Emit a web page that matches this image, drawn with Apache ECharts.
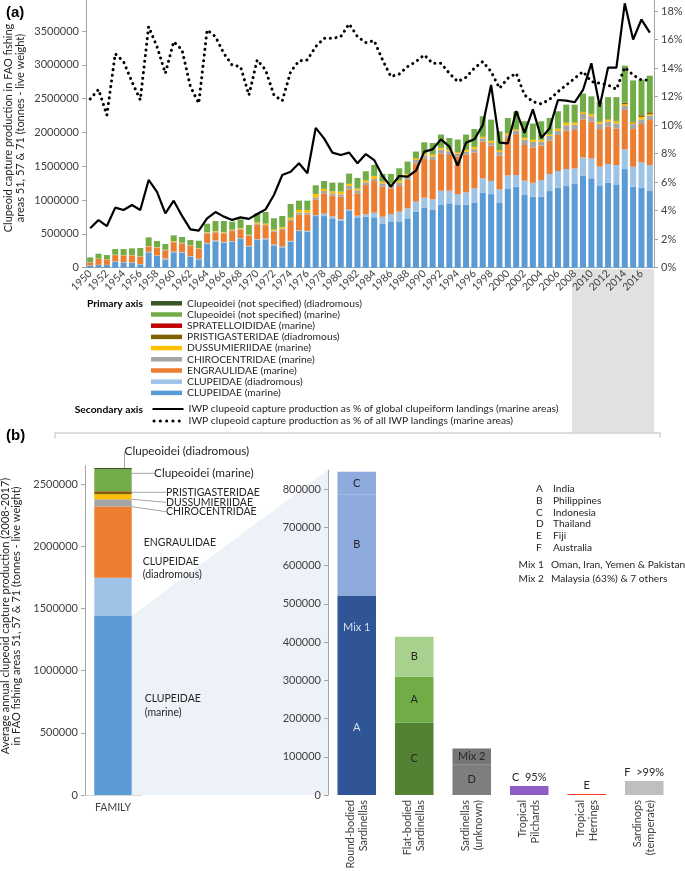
<!DOCTYPE html>
<html><head><meta charset="utf-8">
<script src="https://cdn.jsdelivr.net/npm/echarts@6/dist/echarts.min.js"></script>
<style>html,body{margin:0;padding:0;background:#fff}#c{width:685px;height:871px}</style>
</head><body><div id="c"></div><script>
// ---------- DATA (thousand tonnes; percentages) ----------
const years = ['1950','1951','1952','1953','1954','1955','1956','1957','1958','1959',
'1960','1961','1962','1963','1964','1965','1966','1967','1968','1969',
'1970','1971','1972','1973','1974','1975','1976','1977','1978','1979',
'1980','1981','1982','1983','1984','1985','1986','1987','1988','1989',
'1990','1991','1992','1993','1994','1995','1996','1997','1998','1999',
'2000','2001','2002','2003','2004','2005','2006','2007','2008','2009',
'2010','2011','2012','2013','2014','2015','2016','2017'];

const clupeidaeMarine = [30,39,39,89,79,74,49,227,173,113, 227,222,163,123,355,390,370,380,424,311, 409,419,330,301,385,542,533,764,764,730, 695,838,745,755,745,646,676,685,730,828, 888,853,927,952,927,930,965,1114,1088,966, 1174,1198,1075,1050,1050,1134,1183,1208,1238,1360, 1322,1208,1257,1233,1459,1198,1183,1134];
const clupeidaeDiad = [3,4,3,5,5,5,5,8,8,25, 10,8,8,8,10,15,12,12,12,12, 14,14,12,12,12,12,12,15,35,30, 25,20,25,35,69,108,118,143,148,148, 148,158,212,187,163,186,209,208,196,193, 192,173,212,207,247,252,247,252,231,272, 295,286,276,286,291,296,375,385];
const engraulidae = [44,88,80,92,97,103,109,76,115,118, 138,125,149,145,143,118,126,150,131,145, 218,183,191,244,293,230,239,232,301,305, 330,301,330,433,468,444,380,380,429,567, 581,582,552,528,552,560,530,542,521,498, 560,606,528,523,508,493,533,567,568,562, 543,557,553,542,582,557,567,665];
const chirocentridae = [3,3,3,4,4,4,4,6,6,6, 8,8,7,8,10,12,12,12,12,12, 15,15,15,20,20,30,30,30,35,35, 35,50,45,40,30,50,50,50,50,50, 45,50,55,55,45,40,50,50,40,55, 35,50,80,80,60,70,60,80,80,80, 80,80,75,75,60,75,70,65];
const dussumieriidae = [2,2,2,3,3,3,3,4,4,4, 12,6,5,5,8,8,8,8,8,8, 15,20,15,25,30,40,40,50,30,30, 40,30,25,30,44,25,20,30,30,25, 30,30,25,25,20,25,30,20,30,25, 25,20,25,30,25,20,30,35,30,25, 30,25,30,30,25,20,35,20];
const pristigasteridae = [0,0,0,0,0,0,0,0,0,0, 0,0,0,0,0,0,0,0,0,0, 1,1,1,1,1,1,1,1,1,1, 2,2,2,2,2,2,2,2,2,2, 3,3,3,3,3,3,3,3,3,3, 3,4,3,3,3,3,3,3,5,5, 5,5,5,5,25,15,25,30];
const spratelloididae = [0,0,0,0,0,0,0,0,0,0, 0,0,0,0,0,0,0,0,0,0, 0,0,0,0,0,0,0,0,0,0, 0,0,0,0,0,0,0,0,0,0, 1,1,1,1,1,1,1,1,1,1, 1,1,1,1,1,1,1,1,1,1, 1,1,1,1,1,1,1,1];
const clupeoideiMarine = [71,71,60,83,88,97,121,128,89,84, 83,85,77,110,125,147,162,118,128,143, 133,172,167,162,202,137,137,127,117,127, 132,152,156,132,163,113,142,181,181,98, 157,166,192,166,182,222,262,300,309,275, 223,257,240,235,270,240,255,264,254,265, 255,280,324,349,541,605,521,536];
const clupeoideiDiad = [0,0,0,0,0,0,0,0,0,0, 0,0,0,0,0,0,0,0,0,0, 0,0,0,0,0,0,0,0,0,0, 0,0,0,0,0,0,0,0,0,0, 2,2,2,2,2,2,2,2,2,2, 2,2,2,2,2,2,2,2,3,3, 3,3,3,3,3,3,3,3];

const pctGlobalClupeiform = [2.76,3.34,2.92,4.21,4.05,4.40,4.05,6.15,5.31,3.81, 4.70,3.63,2.69,2.60,3.46,3.90,3.58,3.35,3.53,3.42, 3.77,4.09,5.10,6.50,6.73,7.32,6.62,9.80,9.07,8.07, 7.90,8.07,7.32,7.97,7.55,6.43,5.68,6.43,6.38,6.80, 8.14,8.30,9.00,8.49,7.15,8.77,9.00,10.00,12.81,8.77, 8.72,10.98,9.46,11.10,9.10,9.77,11.76,11.71,11.60,12.46, 14.33,11.30,14.03,14.03,18.54,16.00,17.40,16.48];
const pctAllIWP = [11.83,12.50,10.70,15.00,14.45,13.04,11.76,16.90,15.50,13.63, 15.85,15.27,12.70,11.53,16.67,16.20,15.03,14.20,14.10,12.10, 14.57,13.86,12.10,11.70,13.74,14.50,14.57,15.50,16.08,16.08, 16.20,17.09,16.20,15.78,15.92,14.57,13.40,13.58,14.10,14.45, 14.92,14.33,14.33,13.63,13.05,13.35,14.00,14.45,13.75,12.58, 13.28,13.63,12.11,11.64,11.48,11.80,12.34,12.81,13.28,13.75, 13.05,12.93,12.81,12.51,14.05,13.51,13.16,13.16];

// Panel (b): 2008-2017 averages by family (same order as stack)
const familyAvg = [1440, 308, 572, 59, 41, 20, 3, 177, 10];
const familyLabels = ['CLUPEIDAE\n(marine)', 'CLUPEIDAE\n(diadromous)', 'ENGRAULIDAE', 'CHIROCENTRIDAE', 'DUSSUMIERIIDAE', 'PRISTIGASTERIDAE', '', 'Clupeoidei (marine)', 'Clupeoidei (diadromous)'];

const sardCats = ['Round-bodied\nSardinellas','Flat-bodied\nSardinellas','Sardinellas\n(unknown)','Tropical\nPilchards','Tropical\nHerrings','Sardinops\n(temperate)'];
const sardL1 = [353, 189, 79, 23.5, 2.5, 36.6];
const sardL1Lab = ['A','C','D','C  95%','E','F  >99%'];
const sardL2 = [169, 121, 43, null, null, null];
const sardL2Lab = ['Mix 1','A','Mix 2','','',''];
const sardL3 = [265, 104, null, null, null, null];
const sardL3Lab = ['B','B','','','',''];
const sardL4 = [59, null, null, null, null, null];
const sardL4Lab = ['C','','','','',''];

const keyCodes = ['A','B','C','D','E','F'];
const keyNames = ['India','Philippines','Indonesia','Thailand','Fiji','Australia'];
const mixCodes = ['Mix 1','Mix 2'];
const mixNames = ['Oman, Iran, Yemen & Pakistan','Malaysia (63%) & 7 others'];

// ---------- STYLE ----------
const FONT = 'Lato, "Open Sans", sans-serif';
const AX = '#a6a6a6';
const TXT = '#404040';
const famDefs = [
  ['CLUPEIDAE (marine)', clupeidaeMarine, '#5B9BD5'],
  ['CLUPEIDAE (diadromous)', clupeidaeDiad, '#9DC3E6'],
  ['ENGRAULIDAE (marine)', engraulidae, '#ED7D31'],
  ['CHIROCENTRIDAE (marine)', chirocentridae, '#A5A5A5'],
  ['DUSSUMIERIIDAE (marine)', dussumieriidae, '#FFC000'],
  ['PRISTIGASTERIDAE (diadromous)', pristigasteridae, '#7F6000'],
  ['SPRATELLOIDIDAE (marine)', spratelloididae, '#C00000'],
  ['Clupeoidei (not specified) (marine)', clupeoideiMarine, '#70AD47'],
  ['Clupeoidei (not specified) (diadromous)', clupeoideiDiad, '#375623']
];
const lineNames = ['IWP clupeoid capture production as % of global clupeiform landings (marine areas)',
                   'IWP clupeoid capture production as % of all IWP landings (marine areas)'];
const kfmt = v => String(Math.round(v * 1000));

const famLabelCfg = [
  {label:{position:'right', distance:13}},
  {label:{position:'right', distance:11, offset:[0,-29]}},
  {label:{position:'right', distance:12}},
  {layout:{x:166, y:511.7}},
  {layout:{x:166, y:502.3}},
  {layout:{x:166, y:492.3}},
  null,
  {layout:{x:154, y:473.3}, fontSize:11.8},
  {layout:{x:124.5, y:451.5}, fontSize:11.8}
];

const series = [];
famDefs.forEach(([name, data, color]) => {
  series.push({name, type:'bar', stack:'top', xAxisIndex:0, yAxisIndex:0, data,
    barWidth:'72%', itemStyle:{color}, emphasis:{disabled:true}});
});
series.push({name: lineNames[0], type:'line', xAxisIndex:0, yAxisIndex:1, data: pctGlobalClupeiform,
  symbol:'none', lineStyle:{color:'#000', width:2.2}, itemStyle:{color:'#000'}, z:5, emphasis:{disabled:true}});
series.push({name: lineNames[1], type:'line', xAxisIndex:0, yAxisIndex:1, data: pctAllIWP,
  symbol:'none', lineStyle:{color:'#000', width:3, type:[0.1,5.6], cap:'round'}, itemStyle:{color:'#000'}, z:5, emphasis:{disabled:true}});

famDefs.forEach(([name, data, color], i) => {
  const cfg = famLabelCfg[i];
  const s = {name: 'avg ' + name, type:'bar', stack:'fam', xAxisIndex:1, yAxisIndex:2,
    data:[familyAvg[i]], barWidth:37.4, itemStyle:{color}, emphasis:{disabled:true}};
  if (cfg) {
    s.label = Object.assign({show:true, formatter: familyLabels[i], color:'#262626', fontSize: cfg.fontSize || 10.5,
      fontFamily: FONT, align:'left', lineHeight:13.3}, cfg.label || {position:'right'});
    if (cfg.layout) {
      s.labelLayout = Object.assign({align:'left', verticalAlign:'middle'}, cfg.layout);
      s.labelLine = {show:true, lineStyle:{color:'#a6a6a6', width:1}};
    }
  }
  series.push(s);
});

const sardColors = [
  ['#2F5597','#548235','#7F7F7F','#8E5CC4','#FF3B1F','#BFBFBF'],
  ['#2F5597','#70AD47','#767676',null,null,null],
  ['#8FAADC','#A9D18E',null,null,null,null],
  ['#8FAADC',null,null,null,null,null]
];
const sardLabColors = [
  ['#d6deef','#262626','#262626','#262626','#262626','#262626'],
  ['#d6deef','#262626','#262626'],
  ['#262626','#262626'],
  ['#262626']
];
[[sardL1,sardL1Lab],[sardL2,sardL2Lab],[sardL3,sardL3Lab],[sardL4,sardL4Lab]].forEach(([vals, labs], lv) => {
  series.push({name:'sard level ' + (lv+1), type:'bar', stack:'sard', xAxisIndex:2, yAxisIndex:3,
    barWidth:'67%', emphasis:{disabled:true},
    data: vals.map((v, i) => v == null ? '-' : {
      value: v,
      itemStyle:{color: sardColors[lv][i]},
      label:{show:true, formatter: labs[i], color: sardLabColors[lv][i], fontSize:11, fontFamily:FONT,
        position: (lv===0 && i>=3) ? 'top' : 'inside', distance: 3}
    })
  });
});

const keyGraphics = [];
const keyY = [489, 500.5, 512.5, 524, 536, 548];
const KF = '10.2px ' + FONT;
keyCodes.forEach((c, i) => {
  keyGraphics.push({type:'text', x:536, y:keyY[i], style:{text:c, font:KF, fill:'#262626', verticalAlign:'middle'}});
  keyGraphics.push({type:'text', x:553, y:keyY[i], style:{text:keyNames[i], font:KF, fill:'#262626', verticalAlign:'middle'}});
});
const mixY = [565, 579];
mixCodes.forEach((c, i) => {
  keyGraphics.push({type:'text', x:518.5, y:mixY[i], style:{text:c, font:KF, fill:'#262626', verticalAlign:'middle'}});
  keyGraphics.push({type:'text', x:551, y:mixY[i], style:{text:mixNames[i], font:KF, fill:'#262626', verticalAlign:'middle'}});
});

const valAxisCommon = {
  splitLine:{show:false},
  axisLine:{show:true, lineStyle:{color:AX, width:1}},
  axisTick:{show:true, length:4, lineStyle:{color:AX}},
};

const legendText = {fontSize:10.3, lineHeight:11.2, color:'#262626', fontFamily:FONT};
const option = {
  animation:false,
  textStyle:{fontFamily:FONT},
  grid:[
    {left:86, top:0, width:568, height:267.7, outerBoundsMode:'none', containLabel:false},
    {left:85, top:465.6, width:56, height:329.4, outerBoundsMode:'none', containLabel:false},
    {left:328, top:470.2, width:345, height:324.8, outerBoundsMode:'none', containLabel:false}
  ],
  xAxis:[
    {type:'category', gridIndex:0, data:years, boundaryGap:true,
     axisLine:{lineStyle:{color:AX}}, axisTick:{show:false},
     axisLabel:{rotate:45, interval:1, fontSize:10.5, color:TXT, margin:4, fontFamily:FONT}},
    {type:'category', gridIndex:1, data:['FAMILY'],
     axisLine:{lineStyle:{color:'#d9d9d9'}}, axisTick:{show:false},
     axisLabel:{fontSize:10.5, color:TXT, margin:7, fontFamily:FONT}},
    {type:'category', gridIndex:2, data:sardCats,
     axisLine:{show:false}, axisTick:{show:false},
     axisLabel:{rotate:90, interval:0, fontSize:11, color:TXT, margin:5, lineHeight:13, fontFamily:FONT}}
  ],
  yAxis:[
    Object.assign({type:'value', gridIndex:0, min:0, max:3960, interval:500,
     axisLabel:{formatter:kfmt, fontSize:11, color:TXT, margin:7, showMaxLabel:false, fontFamily:FONT}}, valAxisCommon),
    Object.assign({type:'value', gridIndex:0, min:0, max:18.77, interval:2, position:'right',
     axisLabel:{formatter:'{value}%', fontSize:11, color:TXT, margin:7, showMaxLabel:false, fontFamily:FONT}}, valAxisCommon),
    Object.assign({type:'value', gridIndex:1, min:0, max:2650, interval:500,
     axisLabel:{formatter:kfmt, fontSize:11, color:TXT, margin:7, showMaxLabel:false, fontFamily:FONT}}, valAxisCommon),
    Object.assign({type:'value', gridIndex:2, min:0, max:850, interval:100,
     axisLabel:{formatter:kfmt, fontSize:11, color:TXT, margin:7, showMaxLabel:false, fontFamily:FONT}}, valAxisCommon)
  ],
  legend:[
    {orient:'vertical', left:151, top:297.7, padding:0, itemWidth:31, itemHeight:4.5, itemGap:0, icon:'rect',
     selectedMode:false, textStyle:legendText,
     data: famDefs.map(d => d[0]).reverse()},
    {orient:'vertical', left:151, top:403.4, padding:0, itemWidth:31, itemHeight:10, itemGap:0.8,
     selectedMode:false, textStyle:legendText,
     itemStyle:{color:'rgba(0,0,0,0)', borderWidth:0, opacity:0},
     data: [
       {name: lineNames[0], lineStyle:{color:'#000', width:2, type:'solid', opacity:1}},
       {name: lineNames[1], lineStyle:{color:'#000', width:3, type:[0.1,6.2], cap:'round', dashOffset:-1.5, opacity:1}}
     ]}
  ],
  graphic:[
    {type:'rect', z:-10, shape:{x:572, y:269, width:82, height:164}, style:{fill:'#e1e1e1'}},
    {type:'polyline', z:-10, shape:{points:[[55,438.5],[55,433],[660,433],[660,437.5]]}, style:{stroke:'#d2d2d2', lineWidth:1.5, fill:null}},
    {type:'polygon', z:-10, shape:{points:[[131.7,616],[328,470],[328,795],[131.7,795]]}, style:{fill:'#edf1f8'}},
    {type:'text', x:6, y:5, style:{text:'(a)', font:'bold 15px "Liberation Sans", Arial, sans-serif', fill:'#000'}},
    {type:'text', x:6, y:428, style:{text:'(b)', font:'bold 15px "Liberation Sans", Arial, sans-serif', fill:'#000'}},
    {type:'text', x:143, y:303.5, style:{text:'Primary axis', font:'bold 10.3px ' + FONT, fill:'#000', align:'right', verticalAlign:'middle'}},
    {type:'text', x:143, y:409.3, style:{text:'Secondary axis', font:'bold 10.3px ' + FONT, fill:'#000', align:'right', verticalAlign:'middle'}},
    {type:'text', x:14.2, y:128, rotation:Math.PI/2,
     style:{text:'Clupeoid capture production in FAO fishing\nareas 51, 57 & 71 (tonnes - live weight)', font:'11px ' + FONT, lineHeight:11.7, fill:'#262626', align:'center', verticalAlign:'middle'}},
    {type:'text', x:11, y:616, rotation:Math.PI/2,
     style:{text:'Average annual clupeoid capture production (2008-2017)\nin FAO fishing areas 51, 57 & 71 (tonnes - live weight)', font:'11px ' + FONT, lineHeight:11.7, fill:'#262626', align:'center', verticalAlign:'middle'}}
  ].concat(keyGraphics),
  series
};

const chart = echarts.init(document.getElementById('c'), null, {renderer:'canvas'});
chart.setOption(option);
</script></body></html>
